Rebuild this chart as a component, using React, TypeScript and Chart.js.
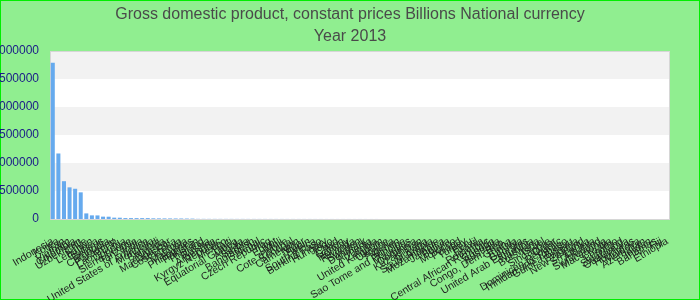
import React, { useEffect, useRef } from 'react';
import { Chart, registerables } from 'chart.js';

Chart.register(...registerables);

const titleLines = [
  'Gross domestic product, constant prices Billions National currency',
  'Year 2013',
];

const categories = [
  'Indonesia', 'Korea', 'Iran', 'Vietnam', 'Colombia', 'Uzbekistan', 'Chile', 'Lebanon', 'Guinea', 'Belarus',
  'Cambodia', 'Paraguay', 'Lao P.D.R.', 'Uganda', 'Sierra Leone', 'Tanzania', 'India', 'United States of America', 'Mongolia', 'Burundi',
  'Nigeria', 'Madagascar', 'Costa Rica', 'Kenya', 'Malaysia', 'Philippines', 'Pakistan', 'Thailand', 'Russia', 'Argentina',
  'Kyrgyz Republic', 'Mexico', 'Haiti', 'Equatorial Guinea', 'Angola', 'Serbia', 'Bangladesh', 'Nepal', 'Czech Republic', 'Iraq',
  'Egypt', 'Mali', "Cote d'Ivoire", 'Senegal', 'Cameroon', 'Niger', 'Benin', 'South Africa', 'Burkina Faso', 'Hungary',
  'Togo', 'Chad', 'Gabon', 'Norway', 'Rwanda', 'Sweden', 'Denmark', 'Armenia', 'Zambia', 'United Kingdom',
  'Ukraine', 'Algeria', 'Yemen', 'Sao Tome and Principe', 'Mauritius', 'Dominica', 'Kazakhstan', 'Guyana', 'Saudi Arabia', 'Mozambique',
  'Jamaica', 'Bolivia', 'Morocco', 'Poland', 'Turkey', 'Peru', 'Brazil', 'Romania', 'Central African Republic', 'Canada',
  'Australia', 'Congo, Dem. Rep.', 'Ghana', 'Tunisia', 'Georgia', 'United Arab Emirates', 'Namibia', 'Botswana', 'Israel', 'Singapore',
  'Qatar', 'Dominican Republic', 'Trinidad and Tobago', 'Guinea-Bissau', 'Bulgaria', 'New Zealand', 'Sri Lanka', 'Albania', 'Switzerland', 'Macedonia',
  'Croatia', 'Lesotho', 'Swaziland', 'Guatemala', 'Honduras', 'Moldova', 'Azerbaijan', 'Jordan', 'Bahamas', 'Fiji',
  'Ethiopia',
];

const gdpValues = [
  2790000, 1170000, 675000, 565000, 540000, 476000, 100000, 65000, 64000, 42000,
  41000, 24000, 23000, 16500, 16000, 15800, 15750, 15710, 12000, 11000,
  10500, 10000, 9500, 9000, 8000, 7000, 2900, 2750, 2600, 2450,
  2300, 2150, 2050, 1950, 1850, 1760, 1680, 1600, 1520, 1450,
  1380, 1310, 1250, 1190, 1130, 1080, 1030, 980, 935, 890,
  850, 810, 770, 735, 700, 665, 635, 605, 575, 548,
  522, 497, 473, 450, 428, 407, 387, 368, 350, 333,
  316, 300, 285, 271, 257, 244, 232, 220, 209, 198,
  188, 178, 169, 160, 152, 144, 136, 129, 122, 115,
  109, 103, 97, 91, 86, 81, 76, 71, 67, 63,
  59, 55, 51, 47, 43, 39, 35, 31, 26, 21,
  16,
];

const yMin = 0;
const yMax = 3000000;
const yStep = 500000;

const FONT = '"Liberation Sans", Arial, sans-serif';

export default function App() {
  const canvasRef = useRef<HTMLCanvasElement>(null);

  useEffect(() => {
    document.body.style.margin = '0';
    const canvas = canvasRef.current;
    if (!canvas) return;

    const background = {
      id: 'background',
      beforeDraw(chart: any) {
        const { ctx, width, height } = chart;
        ctx.save();
        ctx.fillStyle = '#90ee90';
        ctx.fillRect(0, 0, width, height);
        ctx.strokeStyle = '#00ee00';
        ctx.lineWidth = 2;
        ctx.strokeRect(0, 0, width, height);
        ctx.restore();
      },
    };

    const bands = {
      id: 'bands',
      beforeDatasetsDraw(chart: any) {
        const { ctx, chartArea: a, scales } = chart;
        const y = scales.y;
        ctx.save();
        ctx.fillStyle = '#ffffff';
        ctx.fillRect(a.left, a.top, a.right - a.left, a.bottom - a.top);
        const ticks = y.ticks;
        ctx.fillStyle = '#f2f2f2';
        for (let i = 0; i < ticks.length - 1; i++) {
          if (i % 2 === 1) {
            const top = y.getPixelForValue(ticks[i + 1].value);
            const bot = y.getPixelForValue(ticks[i].value);
            ctx.fillRect(a.left, top, a.right - a.left, bot - top);
          }
        }
        ctx.strokeStyle = '#d6d6d6';
        ctx.lineWidth = 1;
        ctx.strokeRect(a.left + 0.5, a.top + 0.5, a.right - a.left - 1, a.bottom - a.top);
        ctx.restore();
      },
    };

    const chart = new Chart(canvas, {
      type: 'bar',
      data: {
        labels: categories,
        datasets: [
          {
            data: gdpValues,
            backgroundColor: 'rgb(102,170,238)',
            borderWidth: 0,
          },
        ],
      },
      options: {
        animation: false,
        responsive: false,
        layout: { padding: 0 },
        plugins: {
          legend: { display: false },
          tooltip: { enabled: false },
          title: {
            display: true,
            text: titleLines,
            color: '#4a4a4a',
            font: { family: FONT, size: 16, weight: 'normal', lineHeight: '22px' },
            padding: { top: 4, bottom: 3 },
          },
        },
        scales: {
          x: {
            grid: { display: false, drawTicks: false },
            border: { display: false },
            ticks: {
              autoSkip: false,
              minRotation: 31,
              maxRotation: 31,
              padding: 16,
              color: '#1e1e1e',
              font: { family: FONT, size: 10.5 },
            },
            afterFit(s: any) {
              s.height = 81;
              s.paddingLeft = 0;
              s.paddingRight = 0;
            },
          },
          y: {
            min: yMin,
            max: yMax,
            grid: { display: false, drawTicks: false },
            border: { display: false },
            ticks: {
              stepSize: yStep,
              padding: 11,
              color: '#1a1a88',
              font: { family: FONT, size: 12 },
              callback: (v: any) => String(v),
            },
            afterFit(s: any) {
              s.width = 50;
            },
          },
          y2: {
            type: 'linear',
            position: 'right',
            grid: { display: false, drawTicks: false },
            border: { display: false },
            ticks: { display: false },
            afterFit(s: any) {
              s.width = 30;
            },
          },
        },
      },
      plugins: [background, bands],
    });

    return () => chart.destroy();
  }, []);

  return (
    <div style={{ position: 'absolute', left: 0, top: 0, width: 700, height: 300 }}>
      <canvas ref={canvasRef} width={700} height={300} />
    </div>
  );
}
